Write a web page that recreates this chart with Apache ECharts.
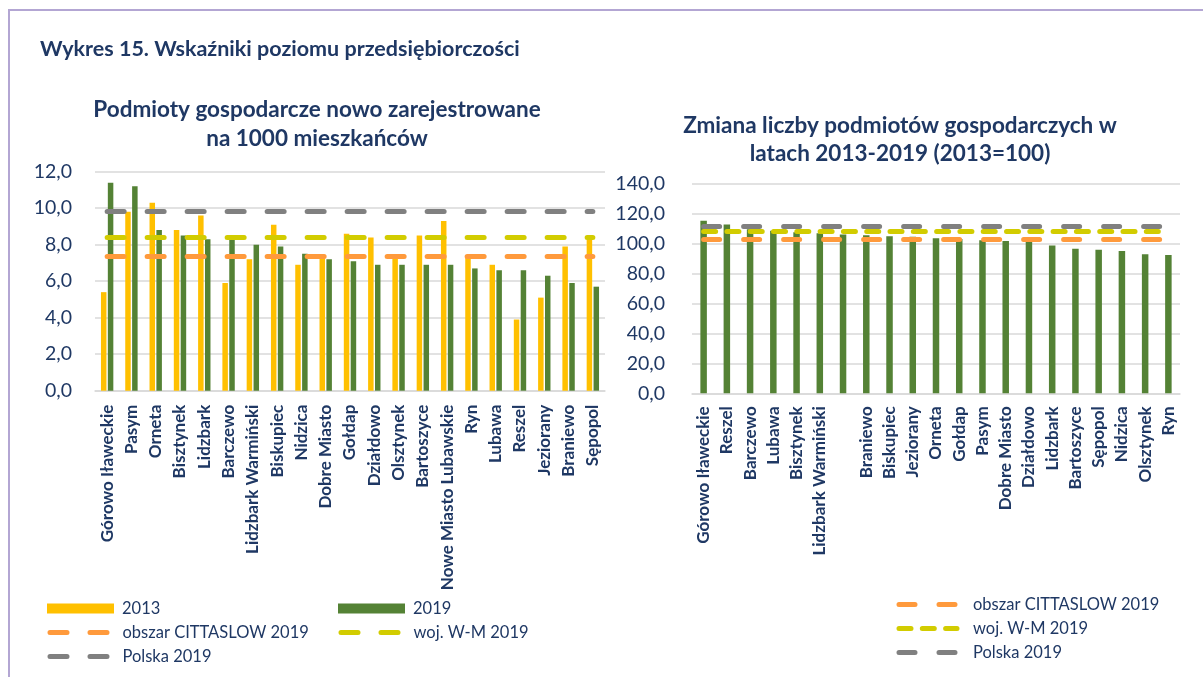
<!DOCTYPE html>
<html>
<head>
<meta charset="utf-8">
<script src="https://cdn.jsdelivr.net/npm/echarts@6/dist/echarts.min.js"></script>
<style>
body { margin: 0; background: #ffffff; }
#frame {
	position: absolute; left: 8px; top: 9px; width: 1195px; height: 668px;
	border-top: 2px solid #B3A6D3; border-left: 2px solid #B3A6D3;
	pointer-events: none;
}
#left { position: absolute; left: 0; top: 0; width: 610px; height: 677px; }
#right { position: absolute; left: 610px; top: 0; width: 593px; height: 677px; }
</style>
</head>
<body>
<div id="left"></div>
<div id="right"></div>
<div id="frame"></div>
<script type="text/javascript">
// chart 1: nowe podmioty na 1000 mieszkancow
var leftTowns = ['Górowo Iławeckie', 'Pasym', 'Orneta', 'Bisztynek', 'Lidzbark', 'Barczewo',
	'Lidzbark Warmiński', 'Biskupiec', 'Nidzica', 'Dobre Miasto', 'Gołdap', 'Działdowo',
	'Olsztynek', 'Bartoszyce', 'Nowe Miasto Lubawskie', 'Ryn', 'Lubawa', 'Reszel',
	'Jeziorany', 'Braniewo', 'Sępopol'];
var values2013 = [5.4, 9.8, 10.3, 8.8, 9.6, 5.9, 7.2, 9.1, 6.9, 7.3, 8.6, 8.4, 7.3, 8.5, 9.3, 7.4, 6.9, 3.9, 5.1, 7.9, 8.3];
var values2019 = [11.4, 11.2, 8.8, 8.5, 8.3, 8.3, 8.0, 7.9, 7.5, 7.2, 7.1, 6.9, 6.9, 6.9, 6.9, 6.7, 6.6, 6.6, 6.3, 5.9, 5.7];
var leftCittaslow = 7.35;
var leftWM = 8.39;
var leftPolska = 9.85;
var leftTicks = [0, 2, 4, 6, 8, 10, 12];

// chart 2: zmiana liczby podmiotow 2013-2019 (2013=100)
var rightTowns = ['Górowo Iławeckie', 'Reszel', 'Barczewo', 'Lubawa', 'Bisztynek', 'Lidzbark Warmiński',
	' ', 'Braniewo', 'Biskupiec', 'Jeziorany', 'Orneta', 'Gołdap', 'Pasym', 'Dobre Miasto',
	'Działdowo', 'Lidzbark', 'Bartoszyce', 'Sępopol', 'Nidzica', 'Olsztynek', 'Ryn'];
var changeValues = [115.1, 112.5, 109.3, 108.4, 107.3, 106.7, 105.8, 105.3, 104.7, 104.4, 103.4, 102.9, 102.0, 101.6, 101.1, 98.6, 96.3, 95.7, 94.9, 92.7, 92.2];
var rightCittaslow = 102.5;
var rightWM = 107.9;
var rightPolska = 111.1;
var rightTicks = [0, 20, 40, 60, 80, 100, 120, 140];

var navy = '#1F3864';
var font = 'Lato';
var cYellow = '#FFC000', cGreen = '#548235', cOrange = '#FF9A3C', cLime = '#D2CC00', cGray = '#808080';

function fmt(v) { return v.toFixed(1).replace('.', ','); }

function refLine(name, cats, value, color, dash) {
	var style = { color: color, width: 5, type: dash, cap: 'round' };
	return {
		name: name, type: 'line', data: [], itemStyle: { color: color }, lineStyle: style,
		symbol: 'none', silent: true,
		markLine: {
			silent: true, symbol: ['none', 'none'], label: { show: false },
			lineStyle: style, emphasis: { disabled: true },
			data: [[{ coord: [cats[0], value] }, { coord: [cats[cats.length - 1], value] }]]
		}
	};
}

function legendBox(name, left, top, width, icon, dash, pad) {
	var lg = {
		data: [name], left: left, top: top, padding: 0, itemWidth: width, itemHeight: 10,
		selectedMode: false,
		textStyle: { color: navy, fontFamily: font, fontSize: 16.5, padding: [0, 0, 0, pad] }
	};
	if (icon) lg.icon = icon;
	if (dash) {
		lg.lineStyle = { width: 5, type: dash, cap: 'round', color: 'inherit' };
		lg.itemStyle = { opacity: 0 };
	}
	return lg;
}

var leftChart = echarts.init(document.getElementById('left'));
leftChart.setOption({
	animation: false,
	title: [
		{ text: 'Wykres 15. Wskaźniki poziomu przedsiębiorczości', left: 35, top: 33,
		  textStyle: { color: navy, fontFamily: font, fontSize: 21.5, fontWeight: 'bold' } },
		{ text: 'Podmioty gospodarcze nowo zarejestrowane\nna 1000 mieszkańców', left: 312, top: 90,
		  textAlign: 'center',
		  textStyle: { color: navy, fontFamily: font, fontSize: 22.5, fontWeight: 'bold', lineHeight: 29 } }
	],
	legend: [
		legendBox('2013', 47, 600, 67, 'rect', null, 3),
		legendBox('2019', 338, 600, 67, 'rect', null, 3),
		legendBox('obszar CITTASLOW 2019', 47.5, 624, 60, null, [17, 23], 7.5),
		legendBox('woj. W-M 2019', 338.5, 624, 60, null, [17, 23], 7.5),
		legendBox('Polska 2019', 47.5, 648, 60, null, [17, 23], 7.5)
	],
	grid: { left: 95, top: 171.7, width: 510, height: 219, outerBoundsMode: 'none' },
	xAxis: {
		type: 'category', data: leftTowns,
		axisLine: { lineStyle: { color: '#D9D9D9', width: 1.5 } },
		axisTick: { show: false },
		axisLabel: { interval: 0, rotate: 90, margin: 14, color: navy, fontFamily: font, fontSize: 17, fontWeight: 'bold' }
	},
	yAxis: {
		type: 'value', min: leftTicks[0], max: leftTicks[leftTicks.length - 1], interval: 2,
		axisLine: { show: false }, axisTick: { show: false },
		splitLine: { lineStyle: { color: '#D9D9D9', width: 1.5 } },
		axisLabel: { margin: 23, color: navy, fontFamily: font, fontSize: 19.5, formatter: fmt }
	},
	series: [
		{ name: '2013', type: 'bar', data: values2013, barWidth: 5.5, barGap: '25%', itemStyle: { color: cYellow } },
		{ name: '2019', type: 'bar', data: values2019, barWidth: 5.5, barGap: '25%', itemStyle: { color: cGreen } },
		refLine('obszar CITTASLOW 2019', leftTowns, leftCittaslow, cOrange, [17, 23]),
		refLine('woj. W-M 2019', leftTowns, leftWM, cLime, [17, 23]),
		refLine('Polska 2019', leftTowns, leftPolska, cGray, [17, 23])
	]
});

var rightChart = echarts.init(document.getElementById('right'));
rightChart.setOption({
	animation: false,
	title: [
		{ text: 'Zmiana liczby podmiotów gospodarczych w\nlatach 2013-2019 (2013=100)', left: 285, top: 107,
		  textAlign: 'center',
		  textStyle: { color: navy, fontFamily: font, fontSize: 22.5, fontWeight: 'bold', lineHeight: 28 } }
	],
	legend: [
		legendBox('obszar CITTASLOW 2019', 286.5, 596, 58, null, [16, 24], 11),
		legendBox('woj. W-M 2019', 286.5, 620, 58, null, [12, 11.3], 11),
		legendBox('Polska 2019', 286.5, 644, 58, null, [16, 24], 11)
	],
	grid: { left: 82, top: 183.3, width: 488, height: 210, outerBoundsMode: 'none' },
	xAxis: {
		type: 'category', data: rightTowns,
		axisLine: { lineStyle: { color: '#D9D9D9', width: 1.5 } },
		axisTick: { show: false },
		axisLabel: { interval: 0, rotate: 90, margin: 13, color: navy, fontFamily: font, fontSize: 17, fontWeight: 'bold' }
	},
	yAxis: {
		type: 'value', min: rightTicks[0], max: rightTicks[rightTicks.length - 1], interval: 20,
		axisLine: { show: false }, axisTick: { show: false },
		splitLine: { lineStyle: { color: '#D9D9D9', width: 1.5 } },
		axisLabel: { margin: 27, color: navy, fontFamily: font, fontSize: 19.5, formatter: fmt }
	},
	series: [
		{ name: '2013=100', type: 'bar', data: changeValues, barWidth: 6.5, itemStyle: { color: cGreen } },
		refLine('obszar CITTASLOW 2019', rightTowns, rightCittaslow, cOrange, [16, 24]),
		refLine('woj. W-M 2019', rightTowns, rightWM, cLime, [12, 11.3]),
		refLine('Polska 2019', rightTowns, rightPolska, cGray, [16, 24])
	]
});
</script>
</body>
</html>
